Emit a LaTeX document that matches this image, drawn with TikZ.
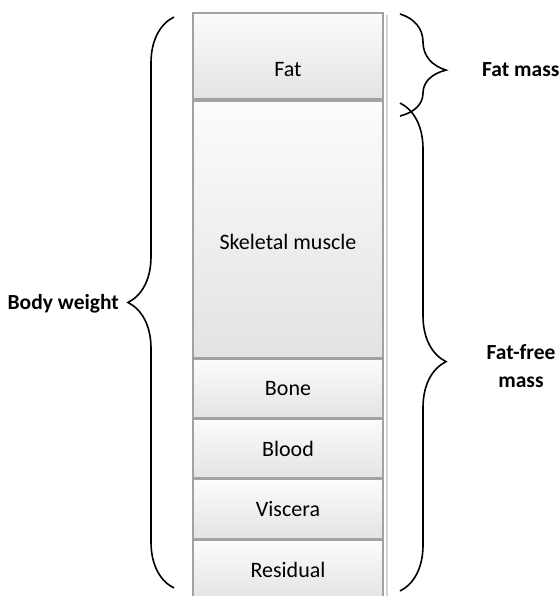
\documentclass[tikz,border=0pt]{standalone}
\usepackage{fontspec}
\setmainfont{Carlito}
\usetikzlibrary{positioning,decorations.pathreplacing,calc}
\definecolor{boxline}{HTML}{A2A2A2}
\definecolor{boxtop}{HTML}{FCFCFC}
\definecolor{boxbot}{HTML}{E3E3E3}
\definecolor{shadowline}{HTML}{D4D4D4}
\tikzset{
  part/.style={draw=boxline, line width=1.2pt, top color=boxtop, bottom color=boxbot,
    minimum width=190pt, inner sep=0pt, outer sep=0pt},
  brace/.style={decorate, decoration={brace, amplitude=46pt, aspect=#1}, line width=1.6pt},
  lbl/.style={font=\fontsize{21.5}{28}\selectfont\bfseries, align=center, inner sep=0pt}
}

\begin{document}
\begin{tikzpicture}[x=1pt, y=-1pt, node distance=1pt, font=\fontsize{22}{26}\selectfont]
    \clip (0,0) rectangle (558,596);
    \fill[white] (0,0) rectangle (558,596);

    % compartments, stacked top to bottom
    \draw[shadowline, line width=1.5pt] (387,15) -- (387,600);
    \node[part, minimum height=86pt] (fat) at (288,56) {};
    \node[part, minimum height=257pt, below=2pt of fat] (muscle) {};
    \node[part, minimum height=59pt, below=1pt of muscle] (bone) {Bone};
    \node[part, minimum height=59pt, below=1pt of bone] (blood) {Blood};
    \node[part, minimum height=60pt, below=1pt of blood] (viscera) {Viscera};
    \node[part, minimum height=60pt, below=1pt of viscera] (residual) {Residual};

    \node (fattxt) at ($(fat.center)+(0,14)$) {Fat};
    \node (muscletxt) at ($(muscle.center)+(0,12)$) {Skeletal muscle};

    % braces
    \coordinate (bwtop) at (174,17);
    \coordinate (bwbot) at (174,588);
    \coordinate (fmtop) at (400,14);
    \coordinate (fmbot) at (400,116);
    \coordinate (fftop) at (400,103);
    \coordinate (ffbot) at (400,591);

    \draw[brace=0.5] (bwbot) -- (bwtop);
    \draw[brace=0.55] (fmtop) -- (fmbot);
    \draw[brace=0.53] (fftop) -- (ffbot);

    \node[lbl, anchor=east] (bw) at (119,304) {Body weight};
    \node[lbl, anchor=west] (fm) at (482,70) {Fat mass};
    \node[lbl] (ffm) at (521,366) {Fat-free\\mass};
\end{tikzpicture}
\end{document}
